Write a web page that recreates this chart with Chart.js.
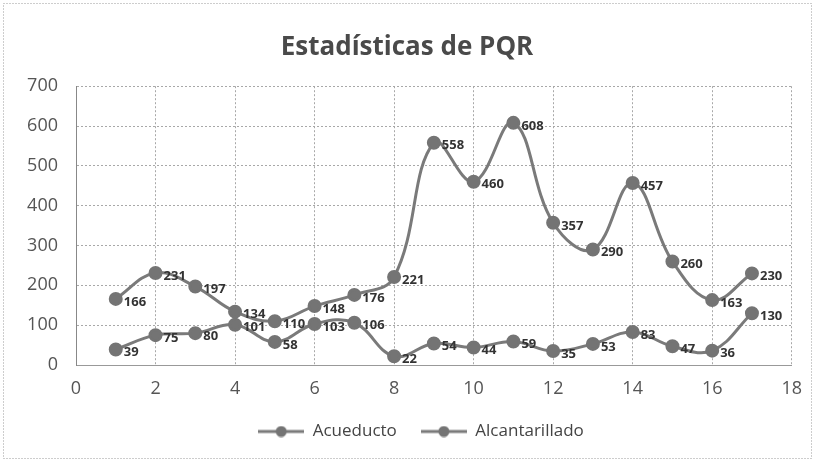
<!DOCTYPE html>
<html>
<head>
<meta charset="utf-8">
<script src="https://cdn.jsdelivr.net/npm/chart.js@4.4.1/dist/chart.umd.min.js"></script>
<style>
  html, body { margin: 0; padding: 0; background: #ffffff; }
  #wrap { width: 815px; height: 462px; position: relative; }
</style>
</head>
<body>
<div id="wrap"><canvas id="c" width="815" height="462"></canvas></div>
<script>
const titleText = 'Estadísticas de PQR';
const xValues = [1, 2, 3, 4, 5, 6, 7, 8, 9, 10, 11, 12, 13, 14, 15, 16, 17];
const acueducto = [166, 231, 197, 134, 110, 148, 176, 221, 558, 460, 608, 357, 290, 457, 260, 163, 230];
const alcantarillado = [39, 75, 80, 101, 58, 103, 106, 22, 54, 44, 59, 35, 53, 83, 47, 36, 130];
const seriesNames = ['Acueducto', 'Alcantarillado'];

const lineColor = '#7a7a7a';
const markerColor = '#747474';

function legendImage() {
  const cv = document.createElement('canvas');
  cv.width = 46; cv.height = 12;
  const g = cv.getContext('2d');
  g.strokeStyle = lineColor; g.lineWidth = 3;
  g.beginPath(); g.moveTo(0, 6); g.lineTo(46, 6); g.stroke();
  g.fillStyle = markerColor;
  g.beginPath(); g.arc(23, 6, 5.5, 0, Math.PI * 2); g.fill();
  return cv;
}
const legImg = legendImage();

const toPts = (arr) => arr.map((v, i) => ({ x: xValues[i], y: v }));

const borderPlugin = {
  id: 'outerBorder',
  beforeDraw(chart) {
    const ctx = chart.ctx;
    ctx.save();
    ctx.strokeStyle = '#9a9a9a';
    ctx.lineWidth = 1;
    ctx.setLineDash([1, 2]);
    ctx.strokeRect(3.5, 3.5, chart.width - 7, chart.height - 7);
    ctx.restore();
  },
  afterLayout(chart) {
    if (chart.legend) { chart.legend.left += 14; chart.legend.right += 14; }
  }
};

const labelPlugin = {
  id: 'dataLabels',
  afterDatasetsDraw(chart) {
    const ctx = chart.ctx;
    ctx.save();
    ctx.font = 'bold 13px "Open Sans"';
    ctx.fillStyle = '#333333';
    ctx.textAlign = 'left';
    ctx.textBaseline = 'middle';
    chart.data.datasets.forEach((ds, di) => {
      const meta = chart.getDatasetMeta(di);
      meta.data.forEach((pt, i) => {
        ctx.fillText(String(ds.data[i].y), pt.x + 8, pt.y + 3);
      });
    });
    ctx.restore();
  }
};

new Chart(document.getElementById('c'), {
  type: 'line',
  data: {
    datasets: [
      {
        label: seriesNames[0],
        data: toPts(acueducto),
        borderColor: lineColor,
        backgroundColor: markerColor,
        pointBackgroundColor: markerColor,
        pointBorderColor: markerColor,
        borderWidth: 3,
        pointRadius: 5.5,
        tension: 0.4,
        fill: false
      },
      {
        label: seriesNames[1],
        data: toPts(alcantarillado),
        borderColor: lineColor,
        backgroundColor: markerColor,
        pointBackgroundColor: markerColor,
        pointBorderColor: markerColor,
        borderWidth: 3,
        pointRadius: 5.5,
        tension: 0.4,
        fill: false
      }
    ]
  },
  options: {
    responsive: false,
    animation: false,
    layout: { padding: { left: 10, right: 11, top: 0, bottom: 12 } },
    scales: {
      x: {
        type: 'linear',
        min: 0, max: 18,
        ticks: { stepSize: 2, color: '#555555', font: { family: 'Open Sans', size: 18 }, padding: 13 },
        grid: { color: '#a8a8a8', drawTicks: false },
        border: { color: '#999999', dash: [2, 2] },
        afterFit(scale) { scale.height = 34; }
      },
      y: {
        min: 0, max: 700,
        ticks: { stepSize: 100, color: '#555555', font: { family: 'Open Sans', size: 18 }, padding: 18 },
        grid: { color: '#a8a8a8', drawTicks: false },
        border: { color: '#888888', dash: [2, 2] },
        afterFit(scale) { scale.width = 66; }
      }
    },
    plugins: {
      title: {
        display: true,
        text: titleText,
        color: '#4a4a4a',
        font: { family: 'Open Sans', size: 26, weight: 'bold' },
        padding: { top: 32, bottom: 23 }
      },
      legend: {
        position: 'bottom',
        labels: {
          usePointStyle: true,
          pointStyle: legImg,
          pointStyleWidth: 46,
          color: '#444444',
          font: { family: 'Open Sans', size: 17 },
          padding: 24
        }
      },
      tooltip: { enabled: false }
    }
  },
  plugins: [borderPlugin, labelPlugin]
});
</script>
</body>
</html>
